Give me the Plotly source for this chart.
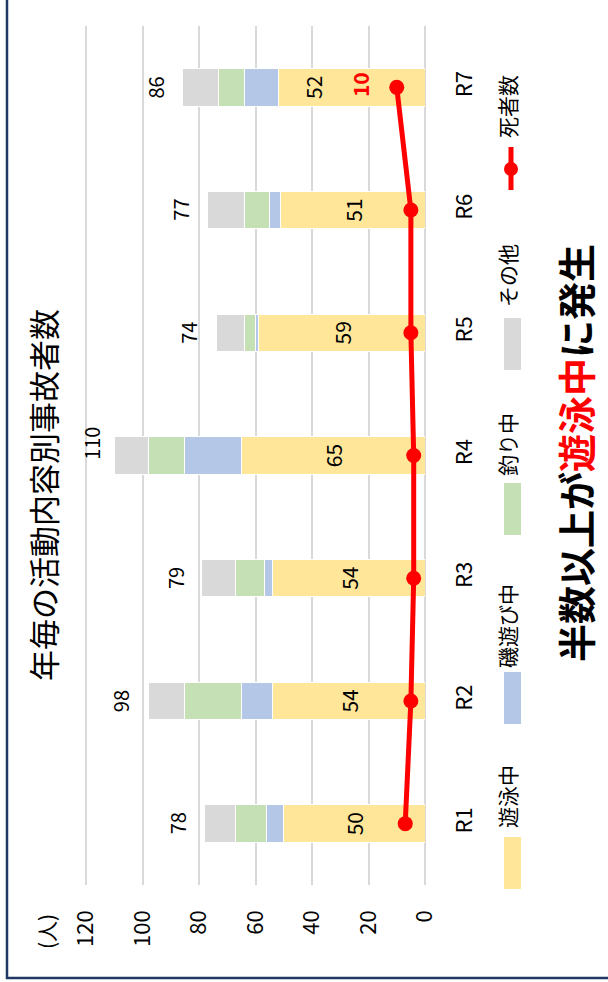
import plotly.graph_objects as go

categories = ["R1", "R2", "R3", "R4", "R5", "R6", "R7"]
swimming = [50, 54, 54, 65, 59, 51, 52]
beach_play = [6, 11, 3, 20, 1, 4, 12]
fishing = [11, 20, 10, 13, 4, 9, 9]
other = [11, 13, 12, 12, 10, 13, 13]
totals = [78, 98, 79, 110, 74, 77, 86]
deaths = [7, 5, 4, 4, 5, 5, 10]
x_ticks = [0, 20, 40, 60, 80, 100, 120]

series_names = ["遊泳中", "磯遊び中", "釣り中", "その他"]
series_colors = ["#FFE699", "#B4C7E7", "#C5E0B4", "#D9D9D9"]
FONT = "Noto Sans CJK JP, Noto Sans, sans-serif"

W, H = 608, 982
XMAX = 120.4
L, R, T, B = 85, 425, 26, 885  # plot area in pixels


def px(x):
    return (x - L) / (R - L)


def py(y):
    return (B - y) / (B - T)


def note(x, y, text, size, color="black", **kw):
    d = dict(x=px(x), y=py(y), xref="paper", yref="paper", text=text, showarrow=False,
             textangle=-90, xanchor="center", yanchor="middle",
             font=dict(family=FONT, size=size, color=color))
    d.update(kw)
    return d


fig = go.Figure()
for name, vals, col in zip(series_names, [swimming, beach_play, fishing, other], series_colors):
    is_swim = name == "遊泳中"
    fig.add_trace(go.Bar(
        name=name, x=vals, y=categories, orientation="h",
        marker=dict(color=col, line=dict(color="white", width=1)),
        text=([str(v) for v in vals[:-1]] + [""]) if is_swim else None,
        textposition="inside" if is_swim else "none",
        insidetextanchor="middle",
        textangle=-90,
        textfont=dict(family=FONT, size=21, color="black"),
        constraintext="none",
        showlegend=False,
        hoverinfo="skip",
    ))

fig.add_trace(go.Scatter(
    name="死者数", x=deaths, y=categories, mode="lines+markers",
    line=dict(color="#FF0000", width=5),
    marker=dict(color="#FF0000", size=15),
    showlegend=False,
    hoverinfo="skip",
))

annotations = []
for c, t in zip(categories, totals):
    near_edge = t > 105
    annotations.append(dict(x=t, y=c, xref="x", yref="y", text=str(t), showarrow=False,
                            textangle=-90, xanchor="center", yanchor="middle",
                            xshift=-23 if near_edge else -27, yshift=12 if near_edge else 0,
                            font=dict(family=FONT, size=20, color="black")))
# last swimming label shifted aside by the deaths label
annotations.append(dict(x=swimming[-1] / 2, y=categories[-1], xref="x", yref="y",
                        text=str(swimming[-1]), showarrow=False, textangle=-90,
                        xanchor="center", yanchor="middle", xshift=-38,
                        font=dict(family=FONT, size=21, color="black")))
annotations.append(dict(x=deaths[-1], y=categories[-1], xref="x", yref="y",
                        text="<b>%d</b>" % deaths[-1], showarrow=False, textangle=-90,
                        xanchor="center", yanchor="middle", xshift=-36, yshift=3,
                        font=dict(family=FONT, size=21, color="#FF0000")))

annotations.append(note(42, 495, "年毎の活動内容別事故者数", 31))
annotations.append(note(46, 932, "(人)", 21))
annotations.append(note(574, 453,
                        "<b>半数以上が<span style='color:#FF0000'>遊泳中</span>に発生</b>", 38))

shapes = []
legend_items = [
    ("遊泳中", series_colors[0], 863, 797),
    ("磯遊び中", series_colors[1], 698, 626),
    ("釣り中", series_colors[2], 509, 445),
    ("その他", series_colors[3], 344, 276),
]
for name, col, sy, ty in legend_items:
    shapes.append(dict(type="rect", xref="paper", yref="paper",
                       x0=px(504), x1=px(521), y0=py(sy + 26), y1=py(sy - 26),
                       fillcolor=col, line=dict(width=0)))
    annotations.append(note(507, ty, name, 21))
shapes.append(dict(type="line", xref="paper", yref="paper",
                   x0=px(511), x1=px(511), y0=py(190), y1=py(147),
                   line=dict(color="#FF0000", width=5)))
shapes.append(dict(type="circle", xref="paper", yref="paper",
                   x0=px(504), x1=px(518), y0=py(176), y1=py(162),
                   fillcolor="#FF0000", line=dict(width=0)))
annotations.append(note(507, 107, "死者数", 21))
shapes.append(dict(type="rect", xref="paper", yref="paper",
                   x0=px(7), x1=px(640), y0=py(978), y1=py(-30),
                   line=dict(color="#1F3864", width=2.5), fillcolor="rgba(0,0,0,0)"))

fig.update_layout(
    width=W, height=H,
    margin=dict(l=L, r=W - R, t=T, b=H - B, autoexpand=False),
    barmode="stack", bargap=0.695,
    plot_bgcolor="white", paper_bgcolor="white",
    font=dict(family=FONT, color="black"),
    hovermode=False,
    xaxis=dict(range=[XMAX, 0], tickvals=x_ticks, ticktext=[str(v) for v in x_ticks],
               showgrid=True, gridcolor="#D9D9D9", gridwidth=2,
               zeroline=True, zerolinecolor="#D9D9D9", zerolinewidth=2,
               showline=False, ticks="", tickangle=-90, ticklabelstandoff=20,
               tickfont=dict(family=FONT, size=22, color="black")),
    yaxis=dict(type="category", categoryorder="array", categoryarray=categories,
               side="right", showgrid=False, zeroline=False, showline=False, ticks="",
               tickangle=-90, ticklabelstandoff=24,
               tickfont=dict(family=FONT, size=22, color="black")),
    annotations=annotations, shapes=shapes,
)

fig.write_html("out.html", config={"displayModeBar": False},
               post_script="document.body.style.margin='0px';")
